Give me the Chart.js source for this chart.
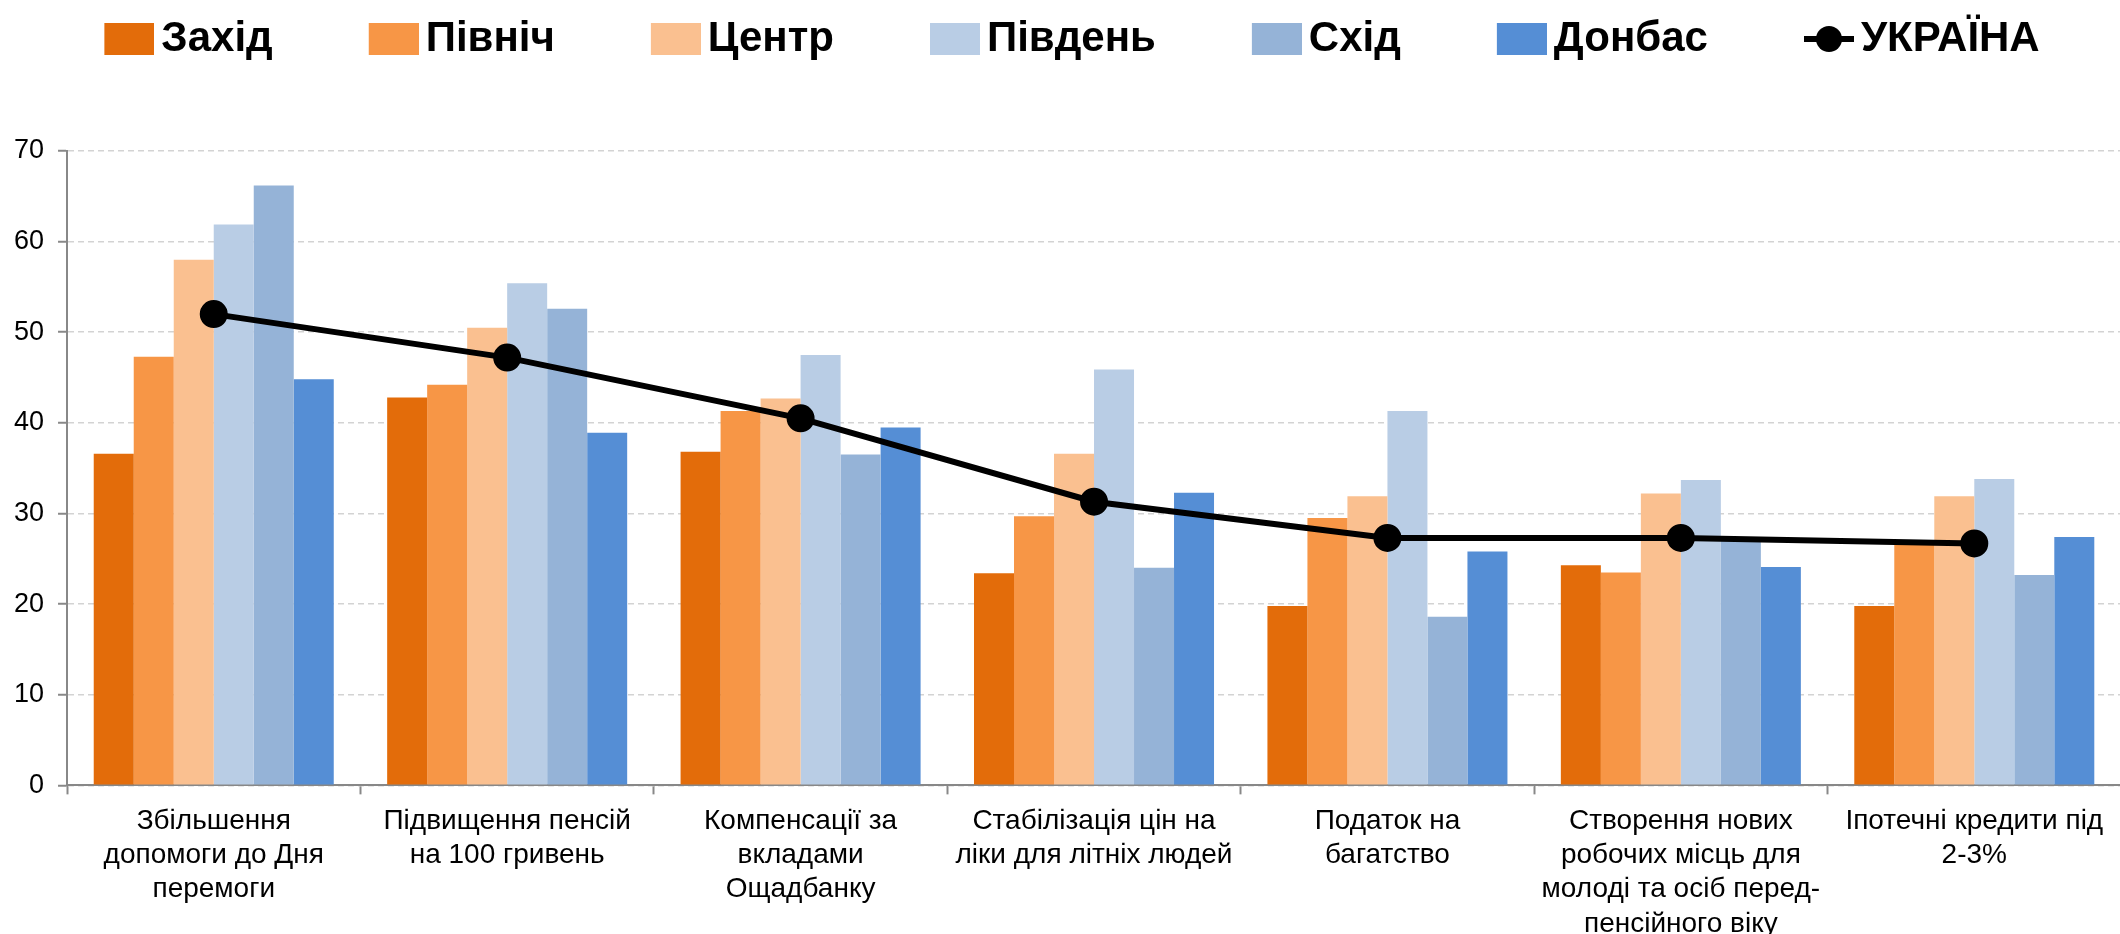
<!DOCTYPE html>
<html lang="uk">
<head>
<meta charset="utf-8">
<title>Пріоритети за регіонами</title>
<script src="https://cdn.jsdelivr.net/npm/chart.js@4.4.1/dist/chart.umd.min.js"></script>
<style>
  html, body { margin: 0; padding: 0; background: #fff; overflow: hidden; }
  canvas { display: block; }
</style>
</head>
<body>
<!-- a bit wider than the window: the plot runs off the right edge like the original -->
<canvas id="chart" width="2136" height="934"></canvas>
<script>
const categories = [
    ['Збільшення', 'допомоги до Дня', 'перемоги'],
    ['Підвищення пенсій', 'на 100 гривень'],
    ['Компенсації за', 'вкладами', 'Ощадбанку'],
    ['Стабілізація цін на', 'ліки для літніх людей'],
    ['Податок на', 'багатство'],
    ['Створення нових', 'робочих місць для', 'молоді та осіб перед-', 'пенсійного віку'],
    ['Іпотечні кредити під', '2-3%']
];

const zakhid  = [36.6, 42.8, 36.8, 23.4, 19.8, 24.3, 19.8];
const pivnich = [47.3, 44.2, 41.3, 29.7, 29.5, 23.5, 26.8];
const tsentr  = [58.0, 50.5, 42.7, 36.6, 31.9, 32.2, 31.9];
const pivden  = [61.9, 55.4, 47.5, 45.9, 41.3, 33.7, 33.8];
const skhid   = [66.2, 52.6, 36.5, 24.0, 18.6, 27.2, 23.2];
const donbas  = [44.8, 38.9, 39.5, 32.3, 25.8, 24.1, 27.4];
const ukraina = [52.0, 47.2, 40.5, 31.3, 27.3, 27.3, 26.7];

const yTicks = [0, 10, 20, 30, 40, 50, 60, 70];

const FONT = '"Liberation Sans", Arial, sans-serif';

// legend icons: drawn in the right part of the canvas so the text sits close to them
function legendIcon(color, isLine) {
    const c = document.createElement('canvas');
    c.width = 64;
    c.height = 32;
    const g = c.getContext('2d');
    if (isLine) {
        g.strokeStyle = '#000';
        g.lineWidth = 6;
        g.beginPath();
        g.moveTo(14, 16);
        g.lineTo(64, 16);
        g.stroke();
        g.fillStyle = '#000';
        g.beginPath();
        g.arc(39, 16, 13, 0, Math.PI * 2);
        g.fill();
    } else {
        g.fillStyle = color;
        g.fillRect(14, 0, 50, 32);
    }
    return c;
}

function barSet(label, data, color) {
    return {
        type: 'bar',
        label: label,
        data: data,
        backgroundColor: color,
        borderWidth: 0,
        order: 1
    };
}

// legend vertical padding is tied to the horizontal one, so fix height and nudge it
const legendSpacing = {
    id: 'legendSpacing',
    beforeInit(chart) {
        const originalFit = chart.legend.fit;
        chart.legend.fit = function fit() {
            originalFit.bind(chart.legend)();
            this.height = 229;
        };
    },
    afterLayout(chart) {
        chart.legend.left += 8;
    }
};

new Chart(document.getElementById('chart'), {
    data: {
        labels: categories,
        datasets: [
            barSet('Захід', zakhid, '#E36C0A'),
            barSet('Північ', pivnich, '#F79646'),
            barSet('Центр', tsentr, '#FAC090'),
            barSet('Південь', pivden, '#B9CDE5'),
            barSet('Схід', skhid, '#95B3D7'),
            barSet('Донбас', donbas, '#558ED5'),
            {
                type: 'line',
                label: 'УКРАЇНА',
                data: ukraina,
                borderColor: '#000',
                backgroundColor: '#000',
                borderWidth: 6,
                tension: 0,
                pointRadius: 13,
                pointHoverRadius: 13,
                pointBackgroundColor: '#000',
                pointBorderColor: '#000',
                pointBorderWidth: 2,
                order: 0
            }
        ]
    },
    options: {
        responsive: false,
        devicePixelRatio: 1,
        animation: false,
        layout: {
            padding: { top: -78, left: 0, right: 0, bottom: -17 }
        },
        datasets: {
            bar: {
                categoryPercentage: 0.818,
                barPercentage: 1.0
            }
        },
        plugins: {
            tooltip: { enabled: false },
            legend: {
                display: true,
                position: 'top',
                labels: {
                    usePointStyle: true,
                    pointStyleWidth: 36,
                    boxHeight: 31,
                    padding: 96,
                    color: '#000',
                    font: { family: FONT, size: 42, weight: 'bold' },
                    sort: (a, b) => a.datasetIndex - b.datasetIndex,
                    generateLabels(chart) {
                        const items = Chart.defaults.plugins.legend.labels.generateLabels(chart);
                        items.forEach(item => {
                            const ds = chart.data.datasets[item.datasetIndex];
                            item.pointStyle = legendIcon(ds.backgroundColor, ds.type === 'line');
                            item.lineWidth = 0;
                        });
                        return items;
                    }
                }
            }
        },
        scales: {
            x: {
                grid: {
                    display: true,
                    drawOnChartArea: false,
                    drawTicks: true,
                    offset: true,
                    tickLength: 9,
                    tickWidth: 2,
                    tickColor: '#888888'
                },
                border: { display: true, color: '#888888', width: 2 },
                ticks: {
                    autoSkip: false,
                    maxRotation: 0,
                    minRotation: 0,
                    padding: 10,
                    color: '#000',
                    font: { family: FONT, size: 28, lineHeight: 1.22 }
                }
            },
            y: {
                min: yTicks[0],
                max: yTicks[yTicks.length - 1],
                grid: {
                    color: '#D3D3D3',
                    lineWidth: 1.5,
                    tickLength: 9,
                    tickWidth: 2,
                    tickColor: '#888888',
                    tickBorderDash: []
                },
                border: { display: true, color: '#888888', width: 2, dash: [6, 4] },
                ticks: {
                    stepSize: yTicks[1] - yTicks[0],
                    padding: 14,
                    color: '#000',
                    font: { family: FONT, size: 27 }
                }
            }
        }
    },
    plugins: [legendSpacing]
});
</script>
</body>
</html>
